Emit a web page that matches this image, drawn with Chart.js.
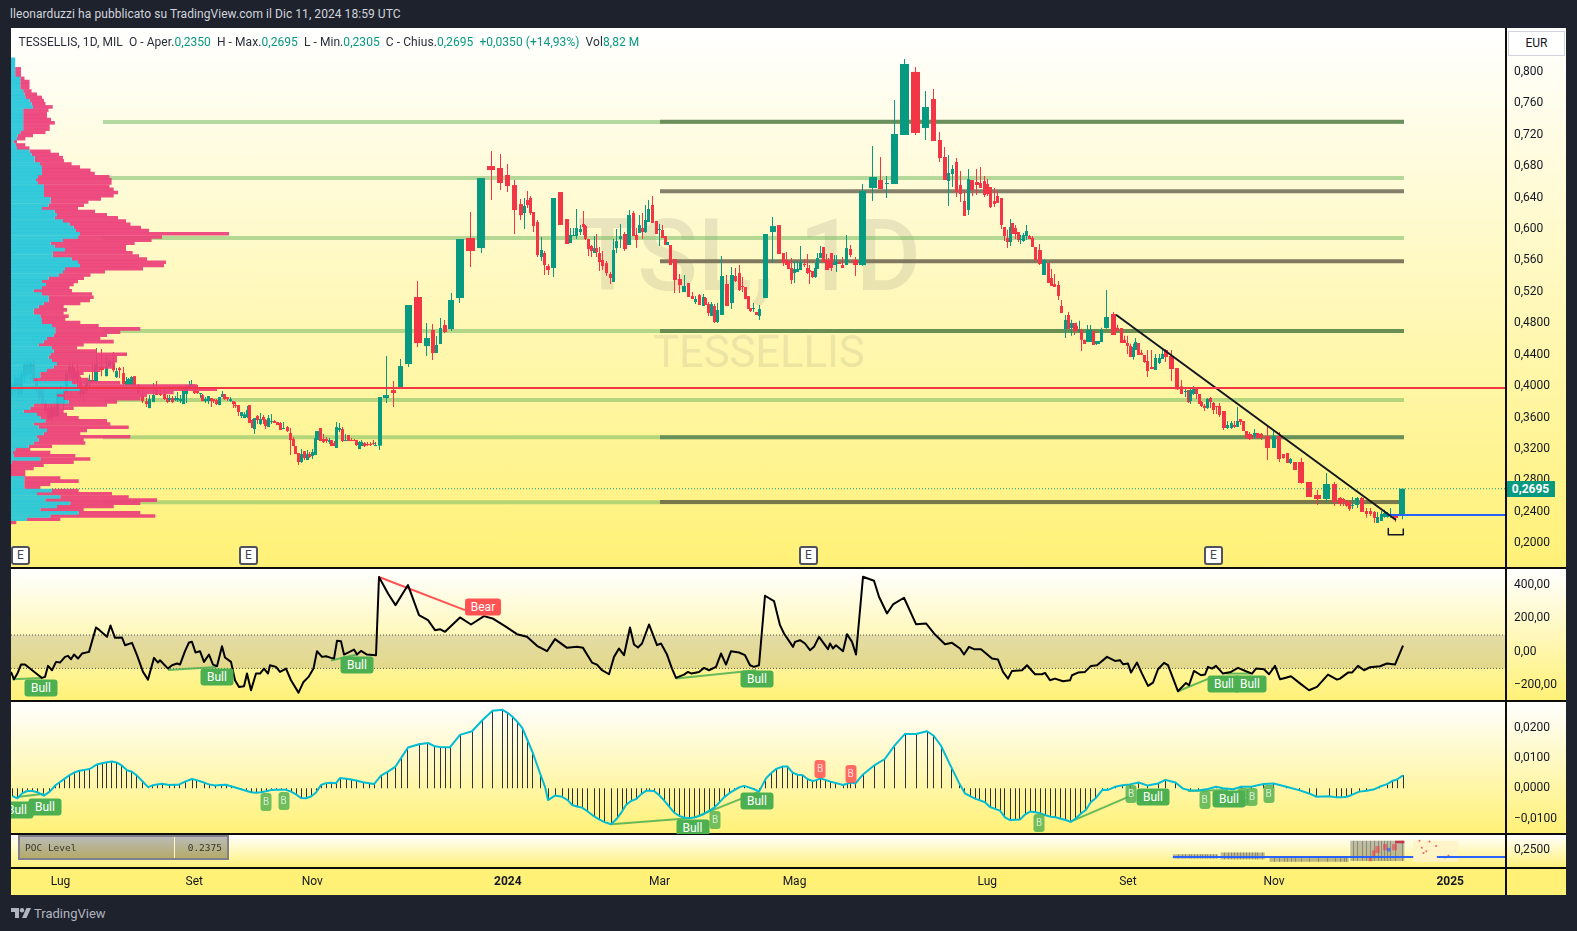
<!DOCTYPE html>
<html><head><meta charset="utf-8">
<script src="https://cdn.jsdelivr.net/npm/chart.js@4/dist/chart.umd.js"></script>
<style>
html,body{margin:0;padding:0;background:#1e222d;width:1577px;height:931px;overflow:hidden;font-family:Roboto,sans-serif}
.pane{position:absolute;left:11px;width:1555px;overflow:hidden;background:linear-gradient(#fff,#fff176)}
.pane canvas{position:absolute;left:0;top:0}
.sep{position:absolute;left:11px;width:1555px;height:2px;background:#0d0d0d}
#vsep{position:absolute;left:1505px;top:28px;width:1.5px;height:867px;background:#0d0d0d;z-index:6}
#title{position:absolute;left:10px;top:7px;color:#d1d4dc;font-size:12px;letter-spacing:.06px;white-space:nowrap}
#legend{position:absolute;left:7.5px;top:7px;color:#2a2e39;font-size:12px;letter-spacing:.06px;white-space:pre;z-index:5}
#legend b{font-weight:400;color:#089981}
.wm{position:absolute;color:rgba(110,110,100,.15);white-space:pre;line-height:1}
.tag{position:absolute;transform:translate(-50%,-50%);border-radius:3px;color:#fff;text-align:center;font-size:12px;z-index:4}
.bull{width:33px;height:17px;line-height:17px;background:#4caf50}
.bear{width:36px;height:17px;line-height:17px;background:#ff5252}
.bb{width:11px;height:18px;line-height:18px;background:rgba(76,175,80,.8);font-size:10px;color:rgba(255,255,255,.7)}
.br{width:11px;height:18px;line-height:18px;background:rgba(255,82,82,.85);font-size:10px;color:rgba(255,255,255,.75)}
.e{position:absolute;top:518px;width:15px;height:15px;line-height:15px;background:#fff;border:2px solid #50535e;border-radius:3px;color:#434651;text-align:center;font-size:12px;z-index:4}
#eur{position:absolute;left:1497px;top:3px;width:55px;height:23px;line-height:23px;background:#fff;border:1px solid #d1d4dc;color:#131722;font-size:12px;text-align:center;z-index:5}
#tagp{position:absolute;left:1495px;top:453px;width:49px;height:16px;line-height:16px;background:#089981;color:#fff;font-size:12px;font-weight:700;text-align:center;z-index:5}
#poct{position:absolute;left:7px;top:0;width:207px;height:21px;border:2px solid #808089;background:linear-gradient(rgba(130,130,130,.55),rgba(130,120,70,.6));font:9.5px "DejaVu Sans Mono",monospace;color:#33362f;line-height:21px;z-index:5}
#poct i{position:absolute;left:154px;top:0;width:1px;height:21px;background:#fff7c8}
#poct span{position:absolute;left:5px}
#poct em{position:absolute;right:5px;font-style:normal}
#brand{position:absolute;left:11px;top:906px;color:#b2b5be;font-size:13px;display:flex;align-items:center;gap:3px}
</style></head><body>
<div id="title">lleonarduzzi ha pubblicato su TradingView.com il Dic 11, 2024 18:59 UTC</div>

<div class="pane" id="pPrice" style="top:28px;height:540px">
  <div id="legend">TESSELLIS, 1D, MIL  O - Aper.<b>0,2350</b>  H - Max.<b>0,2695</b>  L - Min.<b>0,2305</b>  C - Chius.<b>0,2695</b>  <b>+0,0350 (+14,93%)</b>  Vol<b>8,82 M</b></div>
  <div class="wm" style="left:566px;top:178px;font-size:100px;font-weight:500">TSL, 1D</div>
  <div class="wm" style="left:642px;top:303px;font-size:43.5px">TESSELLIS</div>
  <canvas id="cPrice" width="1555" height="540"></canvas>
  <canvas id="cProfile" width="1494" height="540"></canvas>
  <canvas id="cTop" width="1494" height="540"></canvas>
  <div id="eur">EUR</div><div id="tagp">0,2695</div>
  <div class="e" style="left:0">E</div><div class="e" style="left:228px">E</div><div class="e" style="left:788px">E</div><div class="e" style="left:1193px">E</div>
</div>
<div class="sep" style="top:567px"></div>
<div class="pane" id="pCci" style="top:569px;height:132px"><canvas id="cCci" width="1555" height="132"></canvas></div>
<div class="sep" style="top:700px"></div>
<div class="pane" id="pMacd" style="top:702px;height:132px"><canvas id="cMacd" width="1555" height="132"></canvas></div>
<div class="sep" style="top:833px"></div>
<div class="pane" id="pPoc" style="top:835px;height:33px"><canvas id="cPoc" width="1555" height="33"></canvas>
  <div id="poct"><span>POC Level</span><i></i><em>0.2375</em></div></div>
<div class="sep" style="top:867px"></div>
<div class="pane" style="top:869px;height:26px;background:#fff176"><canvas id="cAxis" width="1494" height="26"></canvas></div>
<div id="vsep"></div>
<div id="brand"><svg width="20" height="11" viewBox="0 0 20 11" fill="#b2b5be"><path d="M0 0h8v10H4V4H0z"/><circle cx="11" cy="2.2" r="2.2"/><path d="M15.5 0H20l-4.5 10H11z"/></svg><span>TradingView</span></div>

<script>
// candle rows: [volume, open, high, low, close]
const jun23 = [[3,.395,.405,.388,.402],[3,.4,.414,.392,.41],[3,.41,.416,.387,.39],[3,.39,.42,.386,.415],[3,.412,.43,.405,.427],[3,.427,.435,.412,.416],[3,.416,.433,.408,.429],[3,.428,.434,.405,.408],[3,.408,.412,.392,.396],[3,.396,.4,.382,.385],[3,.393,.398,.376,.378],[3,.378,.382,.365,.368],[3,.372,.376,.357,.359],[3,.36,.378,.356,.374],[3,.374,.38,.36,.362],[3,.362,.395,.36,.392]];
const julAug23 = [[2.9,.392,.4,.376,.378],[2.9,.378,.395,.37,.393],[2.9,.393,.42,.39,.416],[2.9,.416,.43,.41,.425],[2.9,.425,.432,.405,.41],[2.9,.41,.423,.402,.418],[2.9,.418,.428,.4,.405],[2.9,.405,.412,.385,.39],[2.9,.39,.398,.38,.394],[2.9,.394,.41,.39,.405],[2.9,.405,.415,.398,.408],[2.9,.408,.43,.404,.4052],
[5,.4052,.4486,.4052,.4281],[5.8,.4256,.4473,.4128,.4205],[3.7,.4128,.4383,.4128,.4256],[3.2,.4256,.4332,.4256,.4319],[3.8,.4294,.4434,.4179,.4205],[3,.4116,.423,.4103,.4192],[3,.423,.4243,.4103,.4205],[3.5,.4167,.4243,.4014,.4027],[2.5,.4014,.4116,.4014,.4065],[2.5,.4014,.4103,.4014,.409],[3,.4014,.4128,.4014,.4116],[3.5,.4128,.4128,.4001,.4001],[4,.4001,.4027,.39,.39],[4,.3887,.3976,.3785,.381],[3.5,.381,.3849,.3734,.3772],[3.5,.3721,.3887,.3721,.3836],[3.5,.3798,.404,.3798,.3887],[3.5,.3976,.4065,.3887,.3887],[4,.39,.395,.3874,.3887],[3.5,.39,.3976,.3823,.3836],[2.5,.3849,.3887,.3785,.3798],[2.5,.3823,.3887,.3798,.3849],[3,.3849,.3874,.3785,.3798],[2.5,.3823,.3874,.381,.3849],[2.5,.3823,.3925,.3798,.3849],[3,.381,.3887,.3785,.3836],[3,.3772,.395,.3772,.395],[3,.39,.4014,.3785,.3976],[2.5,.3976,.4065,.3976,.4014],[2.5,.3989,.4078,.3976,.4027]];
const sepOct23 = [[3,.4014,.4027,.39,.3912],[3,.3938,.4014,.39,.3912],[2.5,.39,.3912,.3849,.3912],[2.5,.3887,.39,.381,.381],[3,.381,.3861,.3785,.3836],[3,.381,.3874,.3772,.3874],[2.5,.3849,.3849,.3734,.381],[2.5,.3836,.3836,.3785,.381],[3,.3823,.3836,.376,.3772],[3,.376,.3861,.376,.3861],[2.5,.3861,.3938,.3861,.3899],[2.5,.39,.39,.3823,.3836],[3,.3861,.3861,.381,.3836],[3,.381,.3861,.3798,.3836],[2.5,.381,.381,.3721,.3772],[2.5,.376,.3798,.3721,.3747],[3.5,.376,.376,.362,.3672],[3,.362,.367,.3594,.367],[2.5,.3594,.367,.3594,.3642],[2.5,.3607,.3747,.3594,.3696],[2.5,.376,.376,.3531,.3531],[2.5,.3569,.3582,.3467,.3467],[2.5,.3454,.3594,.3391,.3594],[3,.362,.3632,.3518,.3569],[3,.3518,.3658,.3505,.3582],[2.5,.3607,.3632,.3518,.3569],[2.5,.3569,.3582,.3454,.3492],[3,.348,.3632,.348,.3594],[3,.3543,.3645,.3518,.3556],[3.2,.3556,.3569,.3531,.3531],[2.5,.3543,.3543,.3505,.3505],[3.3,.3531,.3543,.3442,.3442],[4,.3454,.3543,.3454,.3467],[3,.348,.3492,.3416,.3429],[3,.3403,.3467,.3124,.3314],[2.5,.3327,.3353,.3238,.3238],[2.5,.3238,.3238,.3136,.3136],[3,.3149,.3149,.2996,.3035],[3,.3035,.32,.3022,.3136],[3,.3174,.3174,.306,.3085],[2.5,.306,.3187,.306,.3136],[2.5,.3136,.3162,.3085,.3098]];
const novDec23 = [[3,.3111,.32,.3073,.3162],[2.5,.3124,.3429,.3124,.334],[2.5,.3314,.3429,.3314,.3429],[3,.3467,.3467,.3302,.3302],[3,.3327,.3391,.3276,.3289],[3,.3327,.3353,.3276,.3302],[2.5,.3289,.334,.3264,.3314],[2.5,.3314,.3314,.3238,.3238],[2.5,.3276,.3302,.3238,.3238],[2.5,.3213,.3543,.3213,.348],[3,.3442,.3531,.3416,.3467],[3,.3454,.348,.3289,.3302],[3,.3302,.3391,.3302,.3314],[3,.3378,.3378,.3302,.3302],[3,.3314,.334,.3302,.3302],[2.7,.3314,.3327,.3302,.3302],[2.5,.3314,.3314,.3238,.3251],[2.3,.32,.3302,.32,.3289],[2.5,.3238,.3314,.3238,.3289],[3,.3276,.3289,.3225,.3238],[3,.3264,.3289,.3238,.3251],[3,.3264,.3289,.3238,.3251],[2.5,.3276,.3314,.3251,.3264],[2.5,.3238,.3289,.3238,.3251],
[5.5,.3243,.3862,.3188,.3862],[8,.3849,.4384,.3785,.3887],[6.5,.395,.4066,.3735,.3913],[6.5,.3989,.4346,.3989,.4256],[9.5,.4282,.5033,.4244,.5033],[10,.5135,.5338,.4498,.4549],[7.5,.4511,.4804,.4384,.4613],[4.5,.4715,.4791,.4333,.4422],[3.5,.4422,.4638,.4422,.4524],[4,.4537,.4867,.4537,.474],[5,.4778,.4842,.4676,.4689],[7.5,.4727,.5186,.4702,.5097],[10,.5122,.5873,.5058,.5873],[11,.5886,.6217,.5517,.572],[10.5,.5758,.6649,.5695,.6649],[10,.6802,.6993,.6369,.6751],[8,.6777,.6955,.6497,.6586]];
const janFeb24 = [[7,.6688,.6828,.6471,.6548],[7,.656,.6624,.5937,.6242],[4.5,.6318,.6382,.6115,.6178],[3,.6204,.6395,.6,.6293],[3,.6369,.6484,.6267,.6306],[3,.6395,.642,.6178,.6204],[3.5,.6217,.6217,.5962,.6038],[4,.6089,.6115,.5644,.5669],[3.5,.5644,.5898,.5593,.5733],[3,.5695,.572,.5415,.5542],[4.5,.5529,.5555,.5415,.5478],
[7,.5504,.6395,.5389,.6395],[7,.6471,.6471,.6052,.6052],[4.5,.6127,.6127,.581,.581],[3,.5822,.6014,.5822,.5924],[3,.5911,.6014,.5911,.5924],[3.5,.5911,.6255,.5873,.6013],[3.5,.5962,.6052,.5925,.6],[2.8,.6064,.623,.5925,.6026],[2.5,.6038,.6052,.586,.5873],[2.7,.5873,.5873,.5657,.5746],[3,.5784,.5797,.5645,.572],[2.5,.5695,.5911,.5695,.5758],[2.5,.5758,.5937,.5645,.5708],[3,.5695,.5771,.5466,.558],[4,.5606,.572,.5478,.5529],[4,.5567,.5594,.5402,.544],[3,.5427,.5454,.53,.5377],[3,.5326,.5873,.5326,.5733],[3.5,.5758,.6,.5695,.5847],[4,.5873,.6064,.5758,.5911],[4.5,.5937,.5962,.572,.5746],[4.5,.5797,.6242,.5797,.6178],[3.5,.6204,.6229,.5911,.5911],[3,.5924,.6013,.5758,.586],[3,.595,.6178,.595,.6051],[3,.6013,.6204,.5873,.5962],[3,.5962,.6306,.595,.6115],[4,.6089,.6369,.6089,.6255],[4,.6306,.642,.6077,.6077],[3.2,.6102,.6102,.5937,.5937]];
const marApr24 = [[3.2,.5987,.6064,.5784,.6],[3,.5987,.6051,.5886,.5886],[2.3,.5911,.5911,.5797,.5797],[2.5,.5797,.5835,.5797,.5835],[3.7,.5797,.5797,.5542,.5542],[4.5,.5618,.5618,.5186,.5351],[4.8,.5364,.5427,.5186,.5287],[4.8,.5198,.5415,.5198,.5275],[4,.5313,.5313,.5135,.5135],[3,.5147,.5198,.5109,.5109],[4,.507,.5147,.5045,.5109],[4.2,.516,.5172,.5033,.5033],[2.7,.502,.5173,.502,.5135],[2.3,.5122,.5135,.5033,.5033],[2.8,.5045,.507,.4893,.4931],[3.2,.4893,.507,.4893,.5045],[2.8,.502,.5045,.4804,.4817],[3.5,.4817,.5058,.4804,.4969],[4.8,.4906,.5657,.4906,.5402],[5,.53,.5415,.502,.502],[5,.5058,.5516,.4982,.5415],[3.8,.5402,.5504,.5326,.5338],[3,.544,.5542,.5211,.5224],[3,.5275,.5389,.5198,.5262],[2.8,.5262,.5262,.5109,.5109],[3,.5147,.5147,.4982,.4982],[2.5,.4995,.4995,.4944,.4956],[2.5,.4982,.5058,.4944,.4995],[3,.4944,.4944,.4906,.4906],[4,.4893,.5033,.4842,.4982],[7,.5122,.5937,.5122,.5937],[8,.5962,.6153,.5567,.6038],[5,.6051,.6051,.5682,.5682],[3,.5695,.5695,.5529,.5567],[3,.5606,.5708,.5542,.5542],[2.5,.5593,.5593,.5491,.5491],[2.7,.5504,.5631,.53,.5351]];
const mayJun24 = [[3.2,.544,.5593,.5313,.5491],[2.8,.5453,.5593,.5453,.5491],[3.3,.5478,.5784,.5478,.558],[3.7,.5555,.5618,.5518,.5542],[2.5,.5504,.5683,.5429,.544],[2.5,.5478,.5543,.53,.5453],[3.2,.5466,.5466,.5378,.539],[2.5,.539,.5568,.5378,.5504],[2.5,.5491,.5695,.5491,.5631],[3,.5631,.5784,.5631,.5695],[3,.5771,.5771,.558,.558],[2.5,.5606,.5683,.5478,.5478],[2.3,.5606,.5632,.5478,.5504],[2.8,.5695,.5695,.5466,.5504],[3,.5542,.567,.5542,.558],[2.5,.5555,.567,.5454,.558],[2.5,.558,.5594,.5555,.5555],[3.5,.5542,.5644,.5504,.5504],[4,.5542,.5924,.5542,.5758],[4,.5746,.5797,.5644,.567],[6,.5606,.5644,.5402,.5542],[9.5,.5542,.6573,.5531,.6484],[10,.6522,.7057,.6357,.6662],[6.5,.6624,.6917,.6509,.6509],[5.5,.6573,.6675,.6395,.6586],
[9,.6573,.7643,.6573,.721],[11,.7197,.8164,.7197,.8101],[11,.8,.8063,.7197,.7223],[9.5,.7286,.7757,.7133,.7553],[7,.7655,.7783,.7121,.7121],[5.5,.7134,.7235,.6853,.6904],[4.5,.6917,.7044,.6624,.6624],[3.5,.6612,.6943,.6293,.6713],[3.5,.6701,.6815,.6535,.6764],[4,.6853,.6904,.6408,.6472],[4,.6561,.6739,.6344,.6446],[4,.6357,.6497,.6166,.6166],[4,.6243,.6764,.6179,.6637],[4.5,.6624,.6624,.6421,.6497],[4.5,.6599,.6764,.6433,.6561],[3.5,.6586,.679,.6523,.6523],[3,.6612,.6675,.6408,.6433]];
const julAug24 = [[3,.6574,.6637,.6422,.6446],[3.5,.6535,.6535,.6268,.628],[4,.6357,.6522,.628,.6319],[3.5,.6421,.6484,.6332,.6332],[3,.6395,.6395,.6,.6052],[3,.6026,.6026,.5848,.5912],[3,.5886,.599,.5759,.5835],[3,.5835,.6128,.5784,.6026],[2.5,.6077,.6077,.5937,.5937],[2.5,.6013,.6052,.5875,.5937],[3,.5962,.5962,.5835,.5861],[2.5,.5861,.5926,.5811,.5873],[2.5,.5848,.5951,.5837,.5924],[3,.5912,.6052,.5862,.5975],[3,.5912,.5926,.5873,.5873],[3,.5886,.5913,.5772,.5772],[3.5,.5772,.5772,.5595,.5606],[5,.5733,.581,.5544,.5555],[4.5,.5415,.562,.5415,.5606],[3,.5568,.5568,.5313,.5313],[3,.5377,.5492,.5275,.5275],[3.5,.53,.5428,.5264,.5264],[4,.5288,.5339,.5097,.5148],[3.5,.5021,.5097,.4932,.4932],[3,.4728,.4906,.4613,.4843],[3,.4906,.4944,.4728,.4728],[3,.4741,.4845,.4642,.4804],[3,.4804,.4804,.4651,.4703],[2.5,.4766,.4806,.4703,.4703],[2.3,.4703,.4832,.4679,.4715],[2.5,.4715,.473,.4448,.459],[2.7,.459,.459,.4537,.4537],[3,.4562,.4779,.4562,.4715],[3,.4562,.4779,.4562,.4715],[3,.4703,.4703,.4524,.4524],[3,.4537,.4575,.4524,.4575],[2.5,.4537,.4575,.4537,.4575],[3.5,.4562,.4743,.4562,.4715],[6.5,.474,.5224,.473,.4881],[6,.4919,.4944,.4651,.4651],[3.5,.4743,.4781,.4705,.4705],[3.5,.4741,.4741,.455,.455],[3.5,.459,.4641,.455,.455]];
const sepOct24 = [[2.5,.455,.4641,.441,.4512],[2.5,.4512,.4539,.4371,.4371],[3,.4371,.4539,.4335,.4499],[2.5,.4461,.4613,.4461,.4562],[2.5,.455,.455,.4397,.4397],[3,.4425,.4463,.44,.44],[3,.4397,.4397,.4296,.4308],[4,.4321,.4461,.4117,.4193],[4.5,.4244,.4461,.4219,.4219],[3.5,.4206,.441,.4206,.4359],[3,.4295,.441,.4283,.4359],[3,.4346,.4486,.4346,.441],[4.5,.4461,.4474,.4308,.4371],[6.5,.4384,.4461,.4066,.4219],[5.3,.4231,.4231,.3951,.396],[3.5,.3998,.4079,.3901,.3901],[3.2,.3926,.3978,.3863,.3939],[3,.3951,.3951,.3787,.3799],[2.5,.3811,.3978,.3774,.3951],[2.5,.3901,.4003,.3889,.3977],[3,.3977,.3977,.3838,.3901],[3,.3901,.3901,.3773,.3773],[2.5,.3799,.3812,.3736,.3748],[2.5,.3749,.3774,.3685,.3723],[3,.3722,.385,.371,.3837],[3,.385,.3863,.3723,.3799],[3,.3786,.3799,.3646,.3697],[3,.3749,.3749,.3647,.3736],[4,.3748,.3787,.3609,.3633],[4.5,.3684,.3684,.3442,.3468],[3.5,.3468,.3558,.3456,.3506],[3,.3468,.3558,.3456,.3531],[3,.3507,.3558,.3469,.3482],[3,.3481,.3735,.3481,.3557],[3,.3582,.3582,.3507,.3544],[3,.3557,.3557,.343,.343],[3,.343,.343,.3329,.3341],[3,.3392,.3418,.3316,.3328],[2.5,.338,.3393,.3329,.3329],[2.5,.3353,.3456,.3329,.3404],[3,.3404,.3404,.3329,.3341],[5.5,.3393,.3405,.3316,.3342],[7,.3366,.3493,.3061,.3213]];
const novDec24 = [[5.5,.3213,.3431,.3213,.3366],[5,.3366,.3418,.3035,.3073],[4,.3137,.3137,.3075,.3086],[3,.315,.315,.3022,.3022],[3.5,.3022,.3087,.3011,.3073],[5.5,.3035,.3035,.2933,.2933],[7.5,.3035,.3086,.2757,.2768],[8,.2781,.2781,.259,.259],[9,.2615,.2679,.2488,.2564],[9,.2564,.2895,.2526,.2755],[7,.2755,.2782,.2475,.2526],[4.5,.2577,.2591,.2475,.2501],[2.5,.2564,.2578,.2475,.2526],[2.5,.2541,.2553,.2464,.2477],[3,.2526,.2553,.2413,.2437],[4,.2477,.2591,.2438,.249],[5,.2488,.2591,.2451,.2577],[4.5,.2577,.2591,.2399,.2399],[4,.2411,.2451,.2324,.2373],[4,.2411,.2451,.2349,.2373],[4,.2399,.2413,.2259,.2322],[3.5,.2259,.2399,.2259,.2335],[3,.2284,.2413,.2284,.2373],[3,.2335,.2426,.2324,.2386],[3,.2335,.2399,.2324,.2373],[3.5,.235,.245,.2324,.2375],[6,.2361,.2361,.2271,.2322],[8,.235,.2695,.2305,.2695]];
const segments = [jun23, julAug23, sepOct23, novDec23, janFeb24, marApr24, mayJun24, julAug24, sepOct24, novDec24];
const monthNames = ['Lug','Set','Nov','2024','Mar','Mag','Lug','Set','Nov','2025'];
const boldMonths = ['2024','2025'];
const futureVolume = 48;
const priceTicks = [.2,.24,.28,.32,.36,.4,.44,.48,.52,.56,.6,.64,.68,.72,.76,.8];
const cciTicks = [-200,0,200,400];
const macdTicks = [-.01,0,.01,.02];
const pocTicks = [.25];

// horizontal levels
const lightLevels = [.7362,.665,.5886,.4702,.3824,.3349,.2522];
const darkLevels = [.7366,.648,.559,.4702,.3349,.2526];
const darkColors = ['#6c8f5e','#84806a','#80795f','#6a8e52','#6b8f58','#79784a'];
const levelEnd = 1393, lightStart = 92, darkStart = 649;
const redPoc = .3977, bluePoc = .2362, lastPrice = .2695;
const trendX = [1105,1385], trendY = [.491,.2297];
const bracketX = [1377.3,1377.3,1392.3,1392.3], bracketY = [.219,.2108,.2108,.219];

// volume profile, top row to bottom row
const vpTop = .816, vpBottom = .2267;
const vpUp = [4.2,4.2,4.2,4.2,4.2,4.2,9.3,9.3,9.3,9.3,12.2,13.5,14.3,18.5,20.6,22,12.2,12.2,12.2,12.2,12.2,12.2,12.2,9.3,6.7,6,2.5,5,6,18.5,20.6,23.6,23.6,29,31,31,31,27,25,27,33,33,33,33,39.6,39.6,37.5,31,43.8,46,43.8,52,58.5,62.7,65,69,67,52,39.6,43.8,54,41.8,41.8,60.6,67,69,54,52,48,37.5,31,35,31,
22.7,31,37.7,37.7,32.7,27.7,22.7,22.7,29.3,31,31,41,44.3,44.3,42.7,36,32.7,27.7,41,42.7,39.3,37.7,41,46,42.7,36,29.3,29.3,22.7,61,66,69.3,52.7,46,52.7,57.7,22.7,19.3,12.7,26,29.3,34.3,22.7,27.7,36,32.7,26,27.7,22.7,17.7,4.3,2,2.7,29.3,1,0,0,0,0,13.3,13.3,13.3,13.3,41,26,49.3,34.3,59.3,46,29.3,67.7,39.3,16,0];
const vpAll = [4.2,4.2,4.2,10,10,10,13.5,18.5,18.5,18.5,20.6,26,31,33,34.5,41.7,37.5,36,36,40,43.8,38.7,38.7,34.5,22,14.3,6,14.3,18.5,39.6,48,52,53,60.6,69,79.5,83.8,98.5,100.6,100.6,98.5,102.7,107,102.7,90,77.4,73,67,84,96,107,115,119.5,130,138,218,151,140.6,123.7,115,115,121.6,128,136,155,153,132,94,79.5,73,67,62.7,58.5,
61,81,82.7,79,69.3,52.7,56,52.7,57.7,54.3,69.3,87.7,129.3,109.3,96,89.3,102.7,72.7,66,86,116,106,106,104,102.7,89.3,72.7,69.3,77.7,109.3,186,206,162.7,136,129.3,106,96,62.7,52.7,56,67.7,96,99.3,117.7,76,69.3,119.3,72.7,74.3,41,19.3,39.3,64.3,79.3,62.7,32.7,22.7,14.3,14.3,49.3,67.7,39.3,29.3,67.7,101,117.7,146,129.3,102.7,72.7,129.3,144.3,49.3,5.3];

// CCI: [session axis value, value]
const cciA = [[0,-121],[3,-165],[6.4,-131],[10,-77],[14,-77],[19,-101],[24,-125],[31,-157],[34,-151],[37,-85],[41,-111],[45,-61],[49,-65],[54,-31],[57,-25],[60,-45],[63,-17],[67,-41],[71,-11],[78,-1],[85,145],[88.5,129],[96,89],[99.5,157],[104,83],[111,85],[114,39],[121,53],[126,-21],[132,-121],[137,-167],[143,-37],[147,-65],[149,-51],[157,-101],[161,-81],[166,-71],[169,-77],[174,3],[178,55],[181,59],[184.5,-5],[189,3],[193,-61],[198,-17],[202,-77],[206,-87],[211,33],[214,-35],[220,-61],[224,-171],[228,-211],[233,-207],[236,-131],[240,-231],[245,-131],[249,-131],[253,-101],[257,-131],[259,-81],[265,-91],[269,-121],[275,-101],[280,-171],[287.5,-245],[292.5,-181],[297.5,-151],[302.5,-101],[306,3],[311,-31],[315,-27],[320,-37],[323,-41],[326,65],[330,63],[333,-17],[337,-5],[343,13],[346,-17],[350,5],[356,-17],[365,-21]];
const cciB = [[368,447],[377,349],[384.5,279],[397,399],[408,219],[417,189],[424,129],[429,135],[434,119],[449,205],[460,163],[473,213],[481.5,199],[494,153],[506,105],[516,89],[526,35],[536,3],[544,75],[556,23],[566,29],[572,23],[581,-65],[586,-77],[591,-111],[598,-135],[603,-31],[608,19],[613,-21],[619,145],[623,43],[627,25],[631,49],[638,163],[646,39],[650,49],[656,-17],[661,-101],[665,-157],[673,-137],[677,-121],[680.5,-131],[688,-121],[693,-97],[698,-111],[705,-91],[710,-11],[715,-77],[720,3],[728,-5],[734,-21],[739,-81],[743,-91],[748,-81],[754,335],[763,303],[769,159]];
const cciC = [[773,109],[782,29],[784,59],[789,69],[794,49],[799,9],[803,29],[808,89],[817,15],[819,49],[822,19],[825,39],[832,3],[836,105],[841,59],[845,-17],[852,449],[863,425],[868,329],[876,229],[882,283],[893,323],[905,165],[915,169],[923,109],[934,45],[941,53],[949,19],[953,-17],[958,29],[963,15],[970,15],[981,-41],[987,-47],[992,-121],[997,-161],[1001,-115],[1011,-111],[1016,-81],[1024,-135],[1031,-135],[1034,-127],[1039,-171],[1044,-161],[1052,-177],[1059,-171],[1061,-141],[1067,-125],[1074,-121],[1080,-85],[1086,-81],[1096,-31],[1104,-55],[1109,-51],[1112,-75],[1117,-71],[1120,-125],[1126,-65],[1131,-131],[1137,-205],[1142,-185],[1147,-105],[1153,-67],[1157,-81],[1167,-237],[1175,-187],[1178,-201],[1183,-115],[1190,-141],[1194,-137],[1197,-91],[1201,-101],[1205,-85],[1212,-131],[1220,-121],[1227,-97],[1235,-117],[1241,-131],[1245,-101],[1253,-105],[1258,-135],[1264,-85],[1269,-165],[1274,-157],[1280,-147],[1288,-185],[1298,-231],[1306,-211],[1317,-137],[1326,-167],[1329,-161],[1337,-125],[1341,-125],[1347,-85],[1353,-111],[1359,-93],[1369,-87],[1376,-71],[1384,-77],[1392,37]];
const cciBullLines = [[[1.4,-165],[31,-157]],[[157,-109],[205,-91]],[[320,-53],[346,-17]],[[665,-161],[745,-111]],[[1167,-237],[1202,-151]],[[1215,-131],[1240,-131]]];
const cciBearLines = [[[368,447],[454,249]]];
const cciBand = [100,-100];
const cciTags = [[30,-216,'Bull','bull'],[206,-150,'Bull','bull'],[346,-80,'Bull','bull'],[746,-165,'Bull','bull'],[472,269,'Bear','bear'],[1213,-195,'Bull','bull'],[1239,-195,'Bull','bull']];

// MACD: [session axis value, value]
const macdA = [[1.4,-.0026],[6.4,-.0033],[11.4,-.0016],[16.4,-.0009],[21.3,-.0009],[26.3,-.0013],[32.8,-.0024],[38.8,-.0011],[44.7,.0011],[48.7,.002],[53.7,.0032],[58.7,.0044],[63.6,.0053],[68.6,.0058],[73.6,.0061],[78.6,.0064],[86,.0079],[91,.0083],[96,.0086],[101,.0089],[106,.0085],[111,.0075],[116,.006],[121,.0055],[126,.0042],[131,.0025],[137,.0004],[141,.0009],[146,.0013],[151,.0015],[158,.0011],[163,.0012],[168,.0012],[174,.0022],[181,.0031],[185.5,.0027],[193,.0019],[198,.0013],[204,.0009],[210,.0011],[215,.0012],[220,.0007],[225,.0002],[230,-.0003],[235,-.0008],[240,-.0013],[245,-.0015],[250,-.0013],[255,-.001],[260,-.0006],[265,-.0005],[270,-.0005],[275,-.0005],[280,-.0011],[285,-.002],[290,-.0032],[295,-.0033],[300,-.0027],[305,-.0014],[310,.0011],[315,.0017],[320,.0018],[325,.0017],[329,.0034],[335,.0032],[340,.0029],[345,.0026],[352,.002],[358,.0017],[363,.0014],[370,.0042],[377,.0055],[384.5,.0072],[391,.0105],[397,.0135],[408,.0146],[417,.015],[424,.0139],[429,.0137],[434,.0136],[439,.0136],[449,.0177],[461,.0189],[471.6,.0226],[481.5,.0257],[491.5,.026],[496.5,.025],[501.5,.0237],[506.4,.022],[511.4,.0199],[516.4,.016],[521.4,.0121],[529,.005],[534,.0005]];
const macdB = [[537,-.0039],[544,-.0024],[551,-.0028],[557,-.004],[561,-.0055],[566,-.006],[571,-.0064],[576,-.0075],[583.5,-.0094],[588.5,-.0104],[593.5,-.0112],[600,-.0119],[606,-.01],[611,-.0077],[615,-.0055],[620,-.0042],[625,-.0036],[630,-.002],[635,-.0008],[638,-.0008],[643,-.0009],[648,-.0022],[653,-.004],[658,-.006],[663,-.008],[668,-.0091],[673,-.0097],[678,-.0099],[683,-.0097],[688,-.0092],[693,-.0085],[698,-.0075],[703,-.0065],[708,-.0048],[713,-.003],[718,-.0017],[723,-.0007],[728,.0003],[733,.0008],[738,.0003],[743,-.0003],[748,-.0011],[755,.0033],[760,.005],[765,.0064],[771.5,.0072],[776.6,.0072],[781.6,.0052],[786.6,.0045],[791.7,.0043],[796.7,.003],[801.7,.0024],[805.3,.0027],[809.3,.0033],[814.3,.0028],[819.4,.0022],[824.4,.0018],[832,.0011],[836,.0015],[839.5,.0019],[844.6,.0016],[852,.0046],[863.7,.0077],[873.8,.0097],[883.9,.0143],[894,.018],[905,.018],[916,.0189],[922.7,.0174],[930,.0141],[940,.0072],[948,.0018]];
const macdC = [[954,-.0017],[959,-.0026],[964,-.0034],[969,-.004],[974,-.0046],[979,-.0062],[984,-.0068],[989,-.0074],[994,-.0096],[999,-.0105],[1004,-.0104],[1009,-.0103],[1014,-.0087],[1019,-.0077],[1024.5,-.0079],[1029.5,-.0083],[1034.5,-.0089],[1039.5,-.0094],[1044.6,-.0096],[1049.6,-.0101],[1054.7,-.0105],[1059.7,-.0111],[1064.7,-.01],[1069.8,-.0084],[1074.8,-.0072],[1079.8,-.0046],[1084.9,-.0032],[1091.4,-.0005],[1096.5,-.0006],[1104,.0005],[1111.6,.001],[1119,.0013],[1127.7,.0019],[1136.8,.0009],[1147,.0016],[1154.4,.0028],[1164.5,.0019],[1172,-.0001],[1179.6,-.0007],[1187,-.0007],[1197,-.0002],[1205,.0005],[1212,0],[1222.4,-.0003],[1230,.0005],[1240,.0005],[1252.6,.0014],[1262.7,.0016],[1275.3,.0005],[1288,-.0006],[1298,-.0017],[1305.5,-.0028],[1318,-.0026],[1325.7,-.003],[1330.7,-.003],[1335.8,-.0028],[1340.8,-.0022],[1348.4,-.0011],[1355.9,-.0008],[1363.5,-.0003],[1368.5,.0005],[1376,.0014],[1381,.0024],[1386,.0029],[1392,.0043]];
const macdBullLines = [[[8,-.0028],[33,-.0018]],[[600,-.0119],[678,-.0099]],[[683,-.0097],[748,-.0011]],[[1059,-.0111],[1122,-.0022]],[[1177,-.0009],[1217,-.0006]]];
const macdTags = [[6,-.0072,'Bull','bull'],[34,-.0061,'Bull','bull'],[255,-.0045,'B','bb'],[272.6,-.0041,'B','bb'],[681.5,-.013,'Bull','bull'],[704,-.0105,'B','bb'],[746,-.0041,'Bull','bull'],[809,.0064,'B','br'],[839.5,.0047,'B','br'],[1028,-.0116,'B','bb'],[1120,-.002,'B','bb'],[1142,-.0028,'Bull','bull'],[1193.7,-.0039,'B','bb'],[1232,-.0028,'B','bb'],[1241,-.003,'B','bb'],[1218,-.0036,'Bull','bull'],[1257.7,-.002,'B','bb']];

// POC mini pane: [from, to, low, high]
const pocBoxes = [[1161,1206,.2348,.2424],[1209,1253,.2335,.2451],[1258,1337,.2291,.238],[1339,1393,.2305,.266]];
const pocPale = [[1402,1447,.2291,.266]];
const pocReds = [[1357.3,1360.7,.23,.238],[1360.7,1364,.238,.2491],[1364,1368.3,.2446,.2566],[1371.7,1375.7,.2491,.2601],[1380.7,1385.7,.2491,.2601]];
const pocBlues = [[1375.7,1379,.2468,.2535]];
const pocDark = [[1384,1393,.2614,.266]];
const pocDots = [[1408.3,.266],[1418.3,.2645],[1425,.2566],[1410.6,.2535],[1415,.2473],[1412.3,.2446],[1437.3,.2402],[1434,.2367]];
const pocLevel = .2375;
const pocLines = [[1161,1402],[1425.7,1494]];

const GREEN='#089981', RED='#f23645', AXIS_MAX=1494;
class SizedBar extends Chart.BarController {
  _calculateBarIndexPixels(index){
    const ds=this.getDataset(), s=this._cachedMeta.iScale;
    const c=s.getPixelForValue(this.getParsed(index)[s.axis]);
    let size=Array.isArray(ds.pxSize)?ds.pxSize[index]:ds.pxSize;
    if(ds.snap){ size=Math.max(1,Math.round(size)); const base=Math.round(c-size/2); return {base,head:base+size,center:base+size/2,size}; }
    return {base:c-size/2,head:c+size/2,center:c,size};
  }
}
SizedBar.id='sizedBar';
Chart.register(SizedBar);
Chart.defaults.font.family='Roboto, sans-serif';

const candles=[]; const monthStart=[]; let cum=0;
segments.forEach((seg,si)=>{ seg.forEach((r,ri)=>{ const x=cum+r[0]/2; cum+=r[0];
  if(ri===0&&si>0) monthStart.push(x);
  candles.push({x,v:r[0],o:r[1],h:r[2],l:r[3],c:r[4]}); }); });
const lastX=candles[candles.length-1].x;
monthStart.push(lastX+futureVolume);
const fmt=(d)=>v=>v.toFixed(d).replace('.',',');
const priceFmt=v=>fmt(v>=.5?3:4)(v);

function yAxis(min,max,ticks,f){ return {position:'right',offset:false,min,max,grid:{display:false,drawTicks:false,offset:false},border:{display:false},
  afterBuildTicks:s=>{s.ticks=ticks.map(value=>({value}));},
  afterFit:s=>{s.width=61;s.paddingTop=0;s.paddingBottom=0;},
  ticks:{callback:f,color:'#131722',font:{size:12},padding:9,autoSkip:false}}; }
const hiddenY=(min,max)=>({display:false,offset:false,min,max});
const X={type:'linear',display:false,offset:false,grid:{offset:false},min:0,max:AXIS_MAX};
const base=(scales,extra)=>Object.assign({responsive:false,animation:false,devicePixelRatio:1,events:[],layout:{padding:0},plugins:{legend:{display:false},tooltip:{enabled:false}},scales},extra||{});
const line=(pts,color,width,extra)=>Object.assign({type:'line',data:pts.map(p=>({x:p[0],y:p[1]})),borderColor:color,borderWidth:width,pointRadius:0,tension:0,fill:false,borderJoinStyle:'round'},extra||{});
const PMIN=.1686,PMAX=.8559;

// price chart
const hl=lightLevels.map(p=>line([[lightStart,p],[levelEnd,p]],'rgba(112,185,95,.52)',4,{order:9}));
const hd=darkLevels.map((p,i)=>line([[darkStart,p],[levelEnd,p]],darkColors[i],4,{order:8}));
const wicks={type:'sizedBar',order:3,snap:true,pxSize:1,inflateAmount:0,borderWidth:0,data:candles.map(c=>({x:c.x,y:[c.l,c.h]})),backgroundColor:candles.map(c=>c.c>=c.o?GREEN:RED)};
const bodies={type:'sizedBar',order:2,snap:true,minBarLength:1,pxSize:candles.map(c=>Math.max(3,c.v*.78)),inflateAmount:0,borderWidth:0,data:candles.map(c=>({x:c.x,y:[Math.min(c.o,c.c),Math.max(c.o,c.c)]})),backgroundColor:candles.map(c=>c.c>=c.o?GREEN:RED)};
const charts={};
charts.price=new Chart(document.getElementById('cPrice'),{type:'line',data:{datasets:[...hl,...hd,wicks,bodies]},options:base({x:X,y:yAxis(PMIN,PMAX,priceTicks,priceFmt)})});

// volume profile
const n=vpUp.length, step=(vpTop-vpBottom)/(n-1), rows=vpUp.map((_,i)=>vpTop-i*step);
charts.profile=new Chart(document.getElementById('cProfile'),{type:'sizedBar',data:{datasets:[
 {type:'sizedBar',pxSize:3.6,inflateAmount:0,borderWidth:0,backgroundColor:'rgba(38,198,218,.93)',data:rows.map((y,i)=>({y,x:[0,Math.max(vpUp[i],.01)]}))},
 {type:'sizedBar',pxSize:3.6,inflateAmount:0,borderWidth:0,backgroundColor:'rgba(236,64,122,.93)',data:rows.map((y,i)=>({y,x:[vpUp[i],Math.max(vpAll[i],vpUp[i]+.01)]}))}
]},options:base({x:{type:'linear',display:false,offset:false,min:0,max:AXIS_MAX},y:{type:'linear',display:false,offset:false,min:PMIN,max:PMAX}},{indexAxis:'y'})});

// overlaid lines
charts.top=new Chart(document.getElementById('cTop'),{type:'line',data:{datasets:[
 line([[41,lastPrice],[AXIS_MAX,lastPrice]],GREEN,1,{borderDash:[1,2]}),
 line([[0,redPoc],[AXIS_MAX,redPoc]],RED,2),
 line(trendX.map((x,i)=>[x,trendY[i]]),'#131722',2),
 line(bracketX.map((x,i)=>[x,bracketY[i]]),'#131722',1.5),
 line([[1376,bluePoc],[AXIS_MAX,bluePoc]],'#2962ff',2)
]},options:base({x:X,y:hiddenY(PMIN,PMAX)})});

// CCI
const cci=[...cciA,...cciB,...cciC];
const cciMin=-295.2,cciMax=495.2;
charts.cci=new Chart(document.getElementById('cCci'),{type:'line',data:{datasets:[
 line([[0,cciBand[0]],[AXIS_MAX,cciBand[0]]],'#555',1,{borderDash:[1,2],fill:'+1',backgroundColor:'rgba(126,120,90,.22)',order:9}),
 line([[0,cciBand[1]],[AXIS_MAX,cciBand[1]]],'#555',1,{borderDash:[1,2],order:9}),
 ...cciBullLines.map(l=>line(l,'rgba(76,175,80,.85)',2,{order:5})),
 ...cciBearLines.map(l=>line(l,'#ff5252',2,{order:5})),
 line(cci,'#000',2,{order:1})
]},options:base({x:X,y:yAxis(cciMin,cciMax,cciTicks,v=>v===0?'0,00':fmt(2)(v).replace('-','\u2212'))})});

// MACD
const macd=[...macdA,...macdB,...macdC];
const macdMin=-.01513,macdMax=.02858;
charts.macd=new Chart(document.getElementById('cMacd'),{type:'line',data:{datasets:[
 {type:'sizedBar',order:5,snap:true,pxSize:1,inflateAmount:0,borderWidth:0,backgroundColor:'rgba(19,23,34,.88)',data:macd.map(p=>({x:p[0],y:[0,p[1]]}))},
 ...macdBullLines.map(l=>line(l,'rgba(76,175,80,.85)',2,{order:3})),
 line(macd,'#00bcd4',2,{order:1})
]},options:base({x:X,y:yAxis(macdMin,macdMax,macdTicks,v=>v===0?'0,0000':fmt(4)(v).replace('-','\u2212'))})});

// POC mini pane
const boxBars=(list,color,order)=>({type:'sizedBar',order,inflateAmount:0,borderWidth:0,backgroundColor:color,pxSize:list.map(b=>b[1]-b[0]),data:list.map(b=>({x:(b[0]+b[1])/2,y:[b[2],b[3]]}))});
const inBoxes=candles.filter(c=>pocBoxes.some(b=>c.x>=b[0]&&c.x<=b[1]));
const stripes={type:'sizedBar',order:7,snap:true,pxSize:1,inflateAmount:0,borderWidth:0,backgroundColor:'rgba(90,90,90,.5)',
 data:inBoxes.map(c=>{const b=pocBoxes.find(b=>c.x>=b[0]&&c.x<=b[1]);return {x:c.x,y:[b[2],b[3]]};})};
charts.poc=new Chart(document.getElementById('cPoc'),{type:'line',data:{datasets:[
 boxBars(pocBoxes,'rgba(125,125,110,.5)',9),
 stripes,
 boxBars(pocPale,'rgba(255,243,200,.9)',9),
 boxBars(pocReds,'rgba(242,54,69,.55)',5),
 boxBars(pocBlues,'rgba(41,98,255,.7)',4),
 boxBars(pocDark,'rgba(200,30,60,.85)',4),
 {type:'scatter',order:3,data:pocDots.map(p=>({x:p[0],y:p[1]})),pointRadius:1,backgroundColor:'rgba(242,54,69,.8)',borderWidth:0},
 ...pocLines.map(l=>line([[l[0],pocLevel],[l[1],pocLevel]],'#2962ff',2,{order:1}))
]},options:base({x:X,y:yAxis(.2251,.269,pocTicks,fmt(4))})});

// time axis
new Chart(document.getElementById('cAxis'),{type:'line',data:{datasets:[]},options:base({
 x:{type:'linear',position:'top',offset:false,min:0,max:AXIS_MAX,grid:{display:false,drawTicks:false},border:{display:false},
  afterBuildTicks:s=>{s.ticks=monthStart.map(value=>({value}));},
  afterFit:s=>{s.height=20;},
  ticks:{autoSkip:false,maxRotation:0,padding:0,color:'#131722',
   font:c=>({size:12,weight:boldMonths.includes(monthNames[c.index])?'700':'400'}),
   callback:(v,i)=>monthNames[i]}},
 y:{display:false}})});

function addTags(paneId,chart,list){ const pane=document.getElementById(paneId);
 list.forEach(t=>{const d=document.createElement('div');d.className='tag '+t[3];d.textContent=t[2];
  d.style.left=chart.scales.x.getPixelForValue(t[0])+'px';d.style.top=chart.scales.y.getPixelForValue(t[1])+'px';pane.appendChild(d);});}
addTags('pCci',charts.cci,cciTags);
addTags('pMacd',charts.macd,macdTags);
</script>
</body></html>
